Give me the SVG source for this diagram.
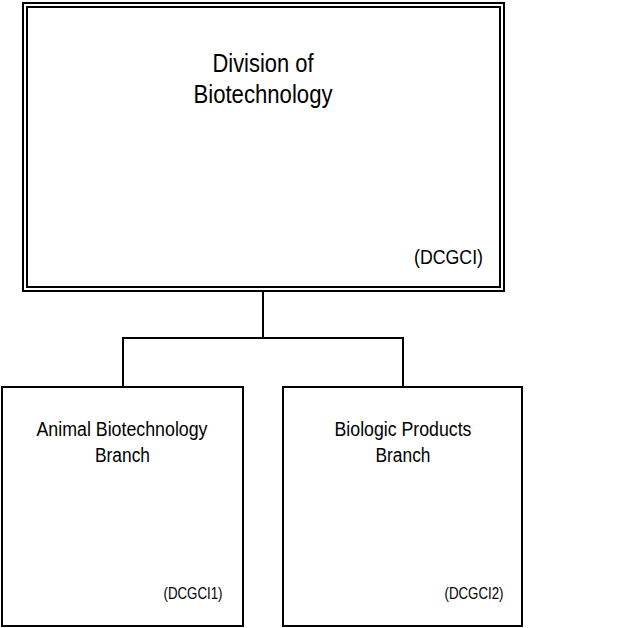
<svg xmlns="http://www.w3.org/2000/svg" width="625" height="628" viewBox="0 0 625 628">
<style>
.box{fill:#fff;stroke:#000;stroke-width:2}
.inner{fill:none;stroke:#000;stroke-width:2}
.conn{fill:none;stroke:#000;stroke-width:2}
text{font-family:"Liberation Sans",Arial,sans-serif;fill:#000}
.t1{font-size:25px;text-anchor:middle}
.t2{font-size:19.5px;text-anchor:middle}
.c1{font-size:20px;text-anchor:end}
.c2{font-size:17px;text-anchor:end}
</style>
<rect width="625" height="628" fill="#fff"/>
<g id="connectors">
<path class="conn" d="M263 291 V338 M123 338 H403 M123 337 V387 M403 337 V387"/>
</g>
<g id="division">
<rect class="box" x="23" y="3" width="481" height="288"/>
<rect class="inner" x="27" y="7" width="473" height="280"/>
<text class="t1" x="263" y="72" textLength="101" lengthAdjust="spacingAndGlyphs">Division of</text>
<text class="t1" x="263" y="103" textLength="139" lengthAdjust="spacingAndGlyphs">Biotechnology</text>
<text class="c1" x="483" y="264" textLength="69" lengthAdjust="spacingAndGlyphs">(DCGCI)</text>
</g>
<g id="animal">
<rect class="box" x="2" y="387" width="241" height="239"/>
<text class="t2" x="122" y="436" textLength="171" lengthAdjust="spacingAndGlyphs">Animal Biotechnology</text>
<text class="t2" x="122.5" y="462" textLength="55" lengthAdjust="spacingAndGlyphs">Branch</text>
<text class="c2" x="222.5" y="599" textLength="59" lengthAdjust="spacingAndGlyphs">(DCGCI1)</text>
</g>
<g id="biologic">
<rect class="box" x="283" y="387" width="239" height="239"/>
<text class="t2" x="403" y="436" textLength="137" lengthAdjust="spacingAndGlyphs">Biologic Products</text>
<text class="t2" x="403" y="462" textLength="55" lengthAdjust="spacingAndGlyphs">Branch</text>
<text class="c2" x="503.5" y="599" textLength="59" lengthAdjust="spacingAndGlyphs">(DCGCI2)</text>
</g>
</svg>
